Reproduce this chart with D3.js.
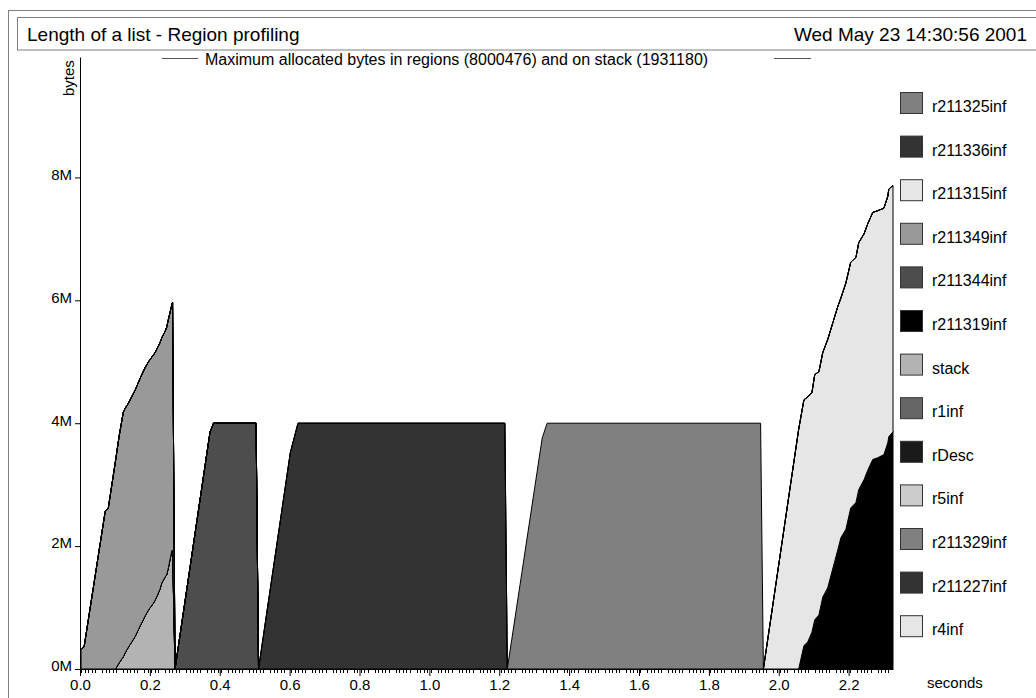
<!DOCTYPE html>
<html>
<head>
<meta charset="utf-8">
<script src="https://cdn.jsdelivr.net/npm/d3@7"></script>
<style>
body { margin: 0; background: #fff; }
svg { display: block; font-family: "Liberation Sans", Arial, Helvetica, sans-serif; }
</style>
</head>
<body>
<script>
// Sample times (seconds)
var times = [0.003, 0.012, 0.072, 0.081, 0.102, 0.112, 0.124, 0.129, 0.138, 0.158,
             0.172, 0.181, 0.186, 0.196, 0.201, 0.210, 0.215, 0.220, 0.229, 0.234,
             0.244, 0.248, 0.253, 0.263, 0.265, 0.272,
             0.372, 0.382, 0.504, 0.511,
             0.602, 0.624, 1.216, 1.223,
             1.323, 1.337, 1.948, 1.956,
             2.057, 2.072, 2.083, 2.095, 2.103, 2.115, 2.126, 2.140, 2.169, 2.178,
             2.192, 2.206, 2.221, 2.229, 2.244, 2.255, 2.269, 2.284, 2.301, 2.312, 2.315, 2.327];

// Bytes per region at each sample (millions)
var stackBytes = [0, 0, 0, 0, 0, 0.10, 0.20, 0.26, 0.35, 0.53,
                  0.70, 0.80, 0.86, 0.96, 1.00, 1.07, 1.12, 1.18, 1.30, 1.40,
                  1.50, 1.53, 1.65, 1.93, 1.93, 0,
                  0, 0, 0, 0,  0, 0, 0, 0,  0, 0, 0, 0,
                  0, 0, 0, 0, 0, 0, 0, 0, 0, 0, 0, 0, 0, 0, 0, 0, 0, 0, 0, 0, 0, 0];
var r211349inf = [0.31, 0.37, 2.56, 2.62, 3.40, 3.69, 3.98, 3.98, 3.97, 4.01,
                  4.03, 4.04, 4.04, 4.04, 4.04, 4.04, 4.03, 4.03, 4.01, 3.99,
                  4.00, 4.03, 4.04, 4.00, 4.04, 0,
                  0, 0, 0, 0,  0, 0, 0, 0,  0, 0, 0, 0,
                  0, 0, 0, 0, 0, 0, 0, 0, 0, 0, 0, 0, 0, 0, 0, 0, 0, 0, 0, 0, 0, 0];
var r211344inf = [0, 0, 0, 0, 0, 0, 0, 0, 0, 0, 0, 0, 0, 0, 0, 0, 0, 0, 0, 0, 0, 0, 0, 0, 0, 0,
                  3.85, 4.00, 4.00, 0,
                  0, 0, 0, 0,  0, 0, 0, 0,
                  0, 0, 0, 0, 0, 0, 0, 0, 0, 0, 0, 0, 0, 0, 0, 0, 0, 0, 0, 0, 0, 0];
var r211336inf = [0, 0, 0, 0, 0, 0, 0, 0, 0, 0, 0, 0, 0, 0, 0, 0, 0, 0, 0, 0, 0, 0, 0, 0, 0, 0,
                  0, 0, 0, 0,
                  3.52, 4.00, 4.00, 0,
                  0, 0, 0, 0,
                  0, 0, 0, 0, 0, 0, 0, 0, 0, 0, 0, 0, 0, 0, 0, 0, 0, 0, 0, 0, 0, 0];
var r211325inf = [0, 0, 0, 0, 0, 0, 0, 0, 0, 0, 0, 0, 0, 0, 0, 0, 0, 0, 0, 0, 0, 0, 0, 0, 0, 0,
                  0, 0, 0, 0,  0, 0, 0, 0,
                  3.76, 4.00, 4.00, 0,
                  0, 0, 0, 0, 0, 0, 0, 0, 0, 0, 0, 0, 0, 0, 0, 0, 0, 0, 0, 0, 0, 0];
var r211315inf = [0, 0, 0, 0, 0, 0, 0, 0, 0, 0, 0, 0, 0, 0, 0, 0, 0, 0, 0, 0, 0, 0, 0, 0, 0, 0,
                  0, 0, 0, 0,  0, 0, 0, 0,  0, 0, 0, 0,
                  3.90, 4.00, 3.99, 3.90, 3.99, 3.96, 3.98, 4.04, 3.96, 3.90,
                  4.01, 4.00, 3.99, 4.02, 4.00, 4.01, 4.02, 4.02, 4.01, 4.01, 4.03, 4.01];
var r211319inf = [0, 0, 0, 0, 0, 0, 0, 0, 0, 0, 0, 0, 0, 0, 0, 0, 0, 0, 0, 0, 0, 0, 0, 0, 0, 0,
                  0, 0, 0, 0,  0, 0, 0, 0,  0, 0, 0, 0,
                  0, 0.38, 0.44, 0.60, 0.80, 0.88, 1.17, 1.32, 1.94, 2.14,
                  2.27, 2.62, 2.71, 2.92, 3.08, 3.24, 3.41, 3.44, 3.49, 3.68, 3.78, 3.86];

// Legend, top to bottom (same as band order top to bottom)
var legendNames = ["r211325inf", "r211336inf", "r211315inf", "r211349inf", "r211344inf", "r211319inf",
                   "stack", "r1inf", "rDesc", "r5inf", "r211329inf", "r211227inf", "r4inf"];
var legendColors = ["#808080", "#333333", "#e6e6e6", "#999999", "#4d4d4d", "#000000",
                    "#b3b3b3", "#666666", "#1a1a1a", "#cccccc", "#808080", "#333333", "#e6e6e6"];

var yTicks = [0, 2, 4, 6, 8];
var xTicks = [0, 0.2, 0.4, 0.6, 0.8, 1.0, 1.2, 1.4, 1.6, 1.8, 2.0, 2.2];

var titleText = "Length of a list - Region profiling";
var dateText = "Wed May 23 14:30:56 2001";
var keyText = "Maximum allocated bytes in regions (8000476) and on stack (1931180)";

// Table for the stack
var series = {
  "stack": stackBytes, "r211349inf": r211349inf, "r211344inf": r211344inf,
  "r211336inf": r211336inf, "r211325inf": r211325inf, "r211315inf": r211315inf,
  "r211319inf": r211319inf
};
var rows = times.map(function(t, i) {
  var row = {t: t};
  for (var k in series) row[k] = series[k][i];
  return row;
});
var keys = ["stack", "r211319inf", "r211344inf", "r211349inf", "r211315inf", "r211336inf", "r211325inf"];

var color = d3.scaleOrdinal().domain(legendNames).range(legendColors);

var svg = d3.select("body").append("svg").attr("width", 1036).attr("height", 698);

// Frames
svg.append("rect").attr("x", 8.5).attr("y", 10.5).attr("width", 1100).attr("height", 800)
    .attr("fill", "none").attr("stroke", "#808080");
svg.append("rect").attr("x", 17.5).attr("y", 17.5).attr("width", 1100).attr("height", 32.5)
    .attr("fill", "none").attr("stroke", "#808080");

svg.append("text").attr("x", 27).attr("y", 41).attr("font-size", 19).text(titleText);
svg.append("text").attr("x", 1027).attr("y", 41).attr("font-size", 19)
    .attr("text-anchor", "end").text(dateText);

// Scales
var x = d3.scaleLinear().domain([0, 2.327]).range([80, 893]);
var y = d3.scaleLinear().domain([0, 9.96]).range([669, 57]);

// Stacked bands
var stacked = d3.stack().keys(keys)(rows);
var area = d3.area()
    .x(function(d) { return x(d.data.t); })
    .y0(function(d) { return y(d[0]); })
    .y1(function(d) { return y(d[1]); });

svg.append("g").selectAll("path").data(stacked).enter().append("path")
    .attr("d", area)
    .attr("fill", function(d) { return color(d.key); })
    .attr("stroke", "#000")
    .attr("stroke-width", 1)
    .attr("stroke-linejoin", "round");

// Axes
var xAxis = svg.append("g").attr("transform", "translate(0,669)")
    .call(d3.axisBottom(x).tickValues(xTicks).tickFormat(d3.format(".1f"))
      .tickSize(7).tickSizeOuter(0).tickPadding(3));
xAxis.attr("font-size", 15).attr("font-family", null);

// sample marks along the time axis
var marks = d3.range(0, 232).filter(function(i) { return i % 6 != 5; })
    .map(function(i) { return 0.004 + i * 0.01; });
xAxis.selectAll(".mark").data(marks).enter().append("line")
    .attr("class", "mark")
    .attr("x1", function(d) { return Math.round(x(d)) + 0.5; })
    .attr("x2", function(d) { return Math.round(x(d)) + 0.5; })
    .attr("y1", 0).attr("y2", 4).attr("stroke", "#000");

var yAxis = svg.append("g").attr("transform", "translate(80,0)")
    .call(d3.axisLeft(y).tickValues(yTicks).tickFormat(function(d) { return d + "M"; })
      .tickSize(5).tickSizeOuter(0).tickPadding(3));
yAxis.attr("font-size", 15).attr("font-family", null);
yAxis.selectAll("text").attr("dy", "0.12em");

svg.append("text").attr("transform", "translate(74,96)rotate(-90)")
    .attr("font-size", 15).text("bytes");
svg.append("text").attr("x", 927).attr("y", 688).attr("font-size", 15).text("seconds");

// Key line at the top
svg.append("line").attr("x1", 162).attr("x2", 198).attr("y1", 58.5).attr("y2", 58.5).attr("stroke", "#555");
svg.append("line").attr("x1", 774).attr("x2", 811).attr("y1", 58.5).attr("y2", 58.5).attr("stroke", "#555");
svg.append("text").attr("x", 205).attr("y", 65).attr("font-size", 16).text(keyText);

// Legend
var legend = svg.append("g").selectAll("g").data(legendNames).enter().append("g")
    .attr("transform", function(d, i) { return "translate(900," + (92 + i * 43.6) + ")"; });
legend.append("rect").attr("x", 0.5).attr("y", 0.5).attr("width", 22).attr("height", 21)
    .attr("fill", function(d) { return color(d); })
    .attr("stroke", "#333");
legend.append("text").attr("x", 32).attr("y", 20).attr("font-size", 16)
    .text(function(d) { return d; });
</script>
</body>
</html>
